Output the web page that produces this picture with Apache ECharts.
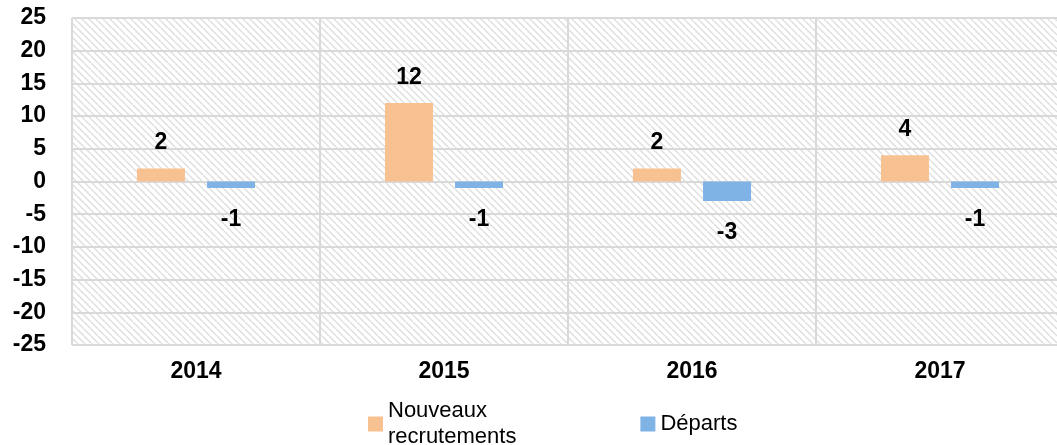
<!DOCTYPE html>
<html>
<head>
<meta charset="utf-8">
<script src="https://cdn.jsdelivr.net/npm/echarts@6/dist/echarts.min.js"></script>
<style>
  html, body { margin: 0; padding: 0; background: #fff; overflow: hidden; }
  #main { width: 1066px; height: 445px; }
</style>
</head>
<body>
<div id="main"></div>
<script>
const years = ['2014', '2015', '2016', '2017'];
const recrutements = [2, 12, 2, 4];
const departs = [-1, -1, -3, -1];
const seriesNames = ['Nouveaux\nrecrutements', 'Départs'];

// hachures du fond
const makeHatch = () => {
  const s = 7;
  const c = document.createElement('canvas');
  c.width = s; c.height = s;
  const ctx = c.getContext('2d');
  ctx.fillStyle = '#ffffff';
  ctx.fillRect(0, 0, s, s);
  ctx.strokeStyle = '#dedede';
  ctx.lineWidth = 1.4;
  [-s, 0, s].forEach(k => {
    ctx.beginPath();
    ctx.moveTo(k, 0);
    ctx.lineTo(k + s, s);
    ctx.stroke();
  });
  return c;
};

const myChart = echarts.init(document.getElementById('main'));
const font = 'Liberation Sans';
const gridColor = '#d9d9d9';

const labelStyle = {
  show: true,
  fontFamily: font,
  fontSize: 23,
  fontWeight: 'bold',
  color: '#000'
};

const option = {
  animation: false,
  backgroundColor: '#ffffff',
  grid: {
    show: true,
    left: 72,
    top: 18,
    width: 992,
    height: 327,
    borderWidth: 0,
    backgroundColor: { image: makeHatch(), repeat: 'repeat' }
  },
  legend: {
    left: 363,
    top: 393,
    itemWidth: 15,
    itemHeight: 15,
    itemGap: 124,
    icon: 'rect',
    textStyle: {
      fontFamily: font,
      fontSize: 22,
      color: '#000',
      lineHeight: 26
    },
    data: seriesNames
  },
  xAxis: {
    type: 'category',
    data: years,
    axisLine: { show: false, onZero: false },
    axisTick: { show: false },
    splitLine: { show: true, lineStyle: { color: gridColor, width: 2 } },
    axisLabel: {
      margin: 15,
      fontFamily: font,
      fontSize: 23,
      fontWeight: 'bold',
      color: '#000'
    }
  },
  yAxis: {
    type: 'value',
    min: -25,
    max: 25,
    interval: 5,
    axisLine: { show: false },
    axisTick: { show: false },
    splitLine: { lineStyle: { color: gridColor, width: 2 } },
    axisLabel: {
      margin: 26,
      fontFamily: font,
      fontSize: 23,
      fontWeight: 'bold',
      color: '#000'
    }
  },
  series: [
    {
      name: seriesNames[0],
      type: 'bar',
      data: recrutements,
      barWidth: 48,
      barGap: '46%',
      itemStyle: { color: '#F8C191' },
      label: { ...labelStyle, position: 'top', distance: 14 }
    },
    {
      name: seriesNames[1],
      type: 'bar',
      data: departs,
      barWidth: 48,
      barGap: '46%',
      itemStyle: { color: '#7FB2E5' },
      label: { ...labelStyle, position: 'bottom', distance: 20 }
    }
  ]
};

myChart.setOption(option);
</script>
</body>
</html>
